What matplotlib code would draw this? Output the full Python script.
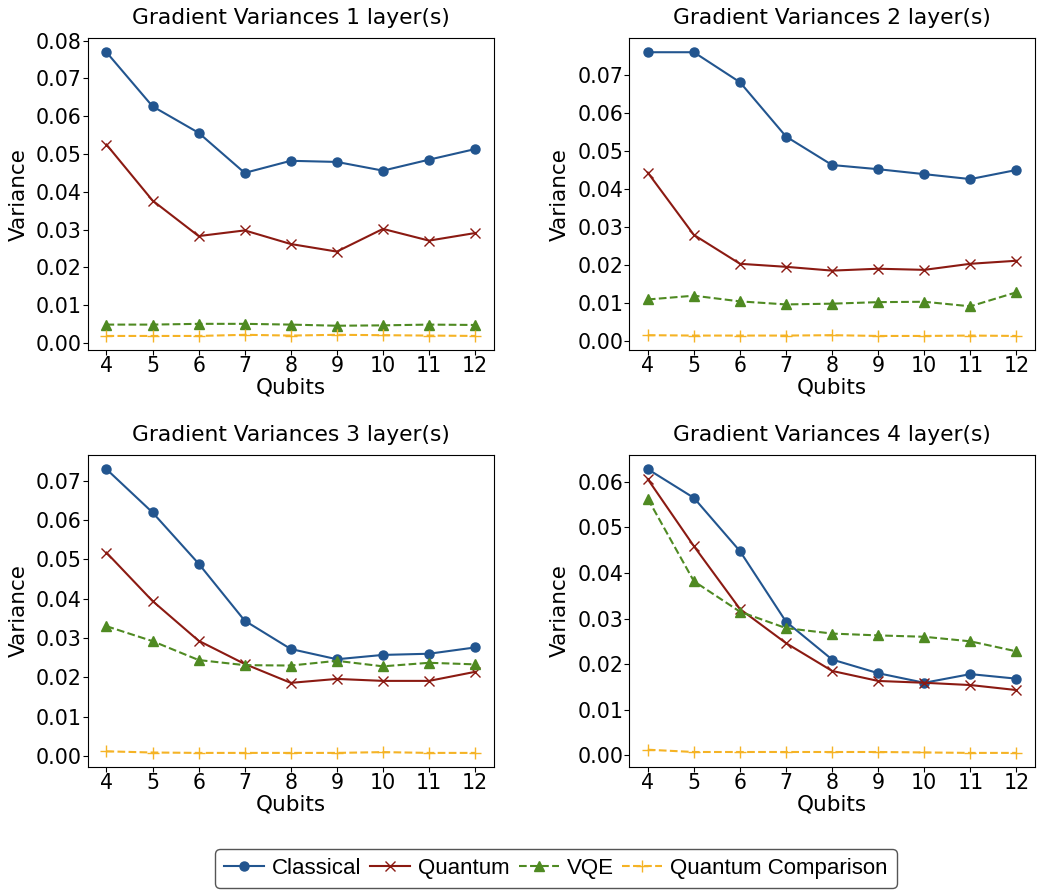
import matplotlib
matplotlib.use("Agg")
import matplotlib.pyplot as plt
from matplotlib.ticker import MultipleLocator

qubits = [4, 5, 6, 7, 8, 9, 10, 11, 12]
layers = [1, 2, 3, 4]

classical = [
    [0.0769, 0.0626, 0.0556, 0.0450, 0.0482, 0.0479, 0.0456, 0.0485, 0.0513],
    [0.0761, 0.0761, 0.0682, 0.0539, 0.0464, 0.0453, 0.0440, 0.0427, 0.0451],
    [0.0729, 0.0619, 0.0489, 0.0344, 0.0272, 0.0246, 0.0257, 0.0260, 0.0276],
    [0.0628, 0.0565, 0.0448, 0.0293, 0.0210, 0.0180, 0.0159, 0.0178, 0.0168],
]
quantum = [
    [0.0525, 0.0377, 0.0283, 0.0298, 0.0262, 0.0242, 0.0302, 0.0271, 0.0291],
    [0.0444, 0.0280, 0.0204, 0.0196, 0.0186, 0.0191, 0.0188, 0.0204, 0.0212],
    [0.0517, 0.0394, 0.0293, 0.0234, 0.0186, 0.0196, 0.0191, 0.0191, 0.0214],
    [0.0606, 0.0459, 0.0321, 0.0246, 0.0185, 0.0163, 0.0159, 0.0154, 0.0143],
]
vqe = [
    [0.0049, 0.0049, 0.0051, 0.0051, 0.0049, 0.0046, 0.0047, 0.0049, 0.0048],
    [0.0110, 0.0120, 0.0105, 0.0097, 0.0099, 0.0103, 0.0104, 0.0092, 0.0129],
    [0.0330, 0.0292, 0.0244, 0.0231, 0.0230, 0.0242, 0.0228, 0.0237, 0.0233],
    [0.0563, 0.0382, 0.0315, 0.0279, 0.0267, 0.0263, 0.0260, 0.0250, 0.0228],
]
quantum_comparison = [
    [0.0019, 0.0019, 0.0019, 0.0022, 0.0020, 0.0022, 0.0021, 0.0020, 0.0019],
    [0.0016, 0.0015, 0.0015, 0.0015, 0.0016, 0.0014, 0.0014, 0.0015, 0.0014],
    [0.0012, 0.0009, 0.0008, 0.0008, 0.0008, 0.0008, 0.0010, 0.0008, 0.0008],
    [0.0012, 0.0007, 0.0007, 0.0007, 0.0007, 0.0007, 0.0006, 0.0005, 0.0005],
]

series_names = ["Classical", "Quantum", "VQE", "Quantum Comparison"]
colors = ["#22558f", "#8b1a12", "#4f8a22", "#f5b325"]
markers = ["o", "x", "^", "+"]
styles = ["-", "-", "--", "--"]
msizes = [6.5, 6.5, 7, 8]

plt.rcParams["font.family"] = "DejaVu Sans"
fig, axes = plt.subplots(2, 2, figsize=(10.38, 8.93), dpi=100)
fig.subplots_adjust(left=0.0848, right=0.997, top=0.9574, bottom=0.141,
                    wspace=0.335, hspace=0.336)

data = [classical, quantum, vqe, quantum_comparison]
handles = []
for i, ax in enumerate(axes.flat):
    for s in range(4):
        (h,) = ax.plot(qubits, data[s][i], color=colors[s], marker=markers[s],
                       linestyle=styles[s], linewidth=1.5, markersize=msizes[s],
                       label=series_names[s])
        if i == 0:
            handles.append(h)
    ax.set_title(f"Gradient Variances {layers[i]} layer(s)", fontsize=15.7, pad=10)
    ax.set_xlabel("Qubits", fontsize=15.5, labelpad=1)
    ax.set_ylabel("Variance", fontsize=15.5, labelpad=5)
    ax.set_xticks(qubits)
    ax.yaxis.set_major_locator(MultipleLocator(0.01))
    ax.tick_params(labelsize=14.8, pad=1)

fig.legend(handles=handles, labels=series_names, loc="center",
           bbox_to_anchor=(556 / 1038, 1 - 868.5 / 893), ncol=4,
           prop={"family": "Liberation Sans", "size": 16},
           handlelength=1.8, columnspacing=0.4, handletextpad=0.35,
           edgecolor="#555555", fancybox=True, framealpha=1)

fig.savefig("out.png", dpi=100)
